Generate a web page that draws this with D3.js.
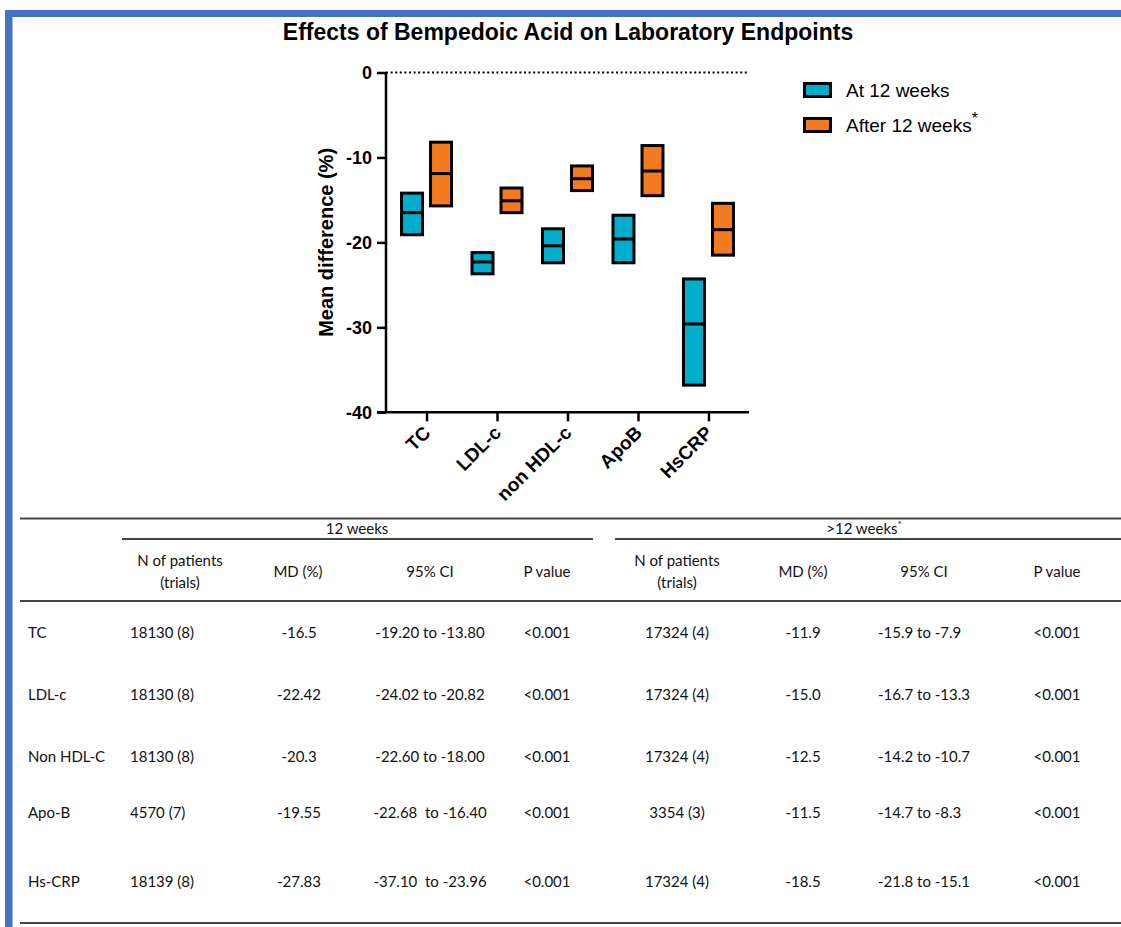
<!DOCTYPE html>
<html>
<head>
<meta charset="utf-8">
<script src="https://cdn.jsdelivr.net/npm/d3@7"></script>
<style>
  html, body { margin: 0; padding: 0; background: #fff; }
  svg { display: block; }
  .tbl text { font-family: Lato, "Open Sans", sans-serif; font-size: 15px; fill: #111; white-space: pre; }
</style>
</head>
<body>
<svg id="chart" width="1121" height="927"></svg>
<script>
// ---------- chart data ----------
const categories = ["TC", "LDL-c", "non HDL-c", "ApoB", "HsCRP"];
const series = ["At 12 weeks", "After 12 weeks"];
const seriesColors = ["#00ADCB", "#F47A1F"];
const at12Low   = [-19.1, -23.7, -22.4, -22.4, -36.8];
const at12High  = [-14.2, -21.2, -18.4, -16.8, -24.3];
const at12Mean  = [-16.5, -22.3, -20.4, -19.6, -29.6];
const after12Low  = [-15.7, -16.5, -13.9, -14.5, -21.5];
const after12High = [-8.2, -13.6, -11.0, -8.6, -15.4];
const after12Mean = [-11.9, -15.1, -12.5, -11.6, -18.5];
const yTicks = [0, -10, -20, -30, -40];

// ---------- table data ----------
const rowLabels = ["TC", "LDL-c", "Non HDL-C", "Apo-B", "Hs-CRP"];
const n12 = ["18130 (8)", "18130 (8)", "18130 (8)", "4570 (7)", "18139 (8)"];
const md12 = ["-16.5", "-22.42", "-20.3", "-19.55", "-27.83"];
const ci12 = ["-19.20 to -13.80", "-24.02 to -20.82", "-22.60 to -18.00", "-22.68  to -16.40", "-37.10  to -23.96"];
const p12 = ["<0.001", "<0.001", "<0.001", "<0.001", "<0.001"];
const nAfter = ["17324 (4)", "17324 (4)", "17324 (4)", "3354 (3)", "17324 (4)"];
const mdAfter = ["-11.9", "-15.0", "-12.5", "-11.5", "-18.5"];
const ciAfter = ["-15.9 to -7.9", "-16.7 to -13.3", "-14.2 to -10.7", "-14.7 to -8.3", "-21.8 to -15.1"];
const pAfter = ["<0.001", "<0.001", "<0.001", "<0.001", "<0.001"];
const colHeaders = ["N of patients|(trials)", "MD (%)", "95% CI", "P value"];

const svg = d3.select("#chart");
const SANS = "'Liberation Sans', Arial, sans-serif";

// frame
svg.append("rect").attr("x", 5).attr("y", 10).attr("width", 1116).attr("height", 7).attr("fill", "#4472C4");
svg.append("rect").attr("x", 5).attr("y", 10).attr("width", 7.5).attr("height", 917).attr("fill", "#4472C4");

// title
svg.append("text").attr("x", 568).attr("y", 40).attr("text-anchor", "middle")
  .style("font-family", SANS).style("font-weight", "bold").style("font-size", "23px")
  .text("Effects of Bempedoic Acid on Laboratory Endpoints");

// scales
const x0 = 386, x1 = 749, yTop = 72.5, yBot = 412.3;
const x = d3.scalePoint().domain(categories).range([x0, x1]).padding(0.575);
const xs = d3.scalePoint().domain(series).range([-14.5, 14.5]);
const y = d3.scaleLinear().domain([-40, 0]).range([yBot, yTop]);
const boxW = 21;

const g = svg.append("g");

// zero dotted line
g.append("line").attr("x1", x0).attr("x2", x1).attr("y1", y(0)).attr("y2", y(0))
  .attr("stroke", "#000").attr("stroke-width", 2).attr("stroke-dasharray", "2,2.6");

// y axis
const yAxis = g.append("g").attr("transform", `translate(${x0},0)`)
  .call(d3.axisLeft(y).tickValues(yTicks).tickSize(9).tickPadding(5).tickFormat(d => String(d)));
yAxis.select(".domain").attr("stroke", "#000").attr("stroke-width", 2.5).attr("d", `M0,${y(0)}V${yBot}`);
yAxis.selectAll(".tick line").attr("stroke", "#000").attr("stroke-width", 2.5);
yAxis.selectAll(".tick text").style("font-family", SANS)
  .style("font-weight", "bold").style("font-size", "18px").attr("fill", "#000");

// x axis
const xAxis = g.append("g").attr("transform", `translate(0,${yBot})`)
  .call(d3.axisBottom(x).tickSize(9).tickSizeOuter(0));
xAxis.select(".domain").attr("stroke", "#000").attr("stroke-width", 2.5).attr("d", `M${x0 - 9},0H${x1}`);
xAxis.selectAll(".tick line").attr("stroke", "#000").attr("stroke-width", 2.5);
xAxis.selectAll(".tick text")
  .style("font-family", SANS).style("font-weight", "bold").style("font-size", "19px")
  .attr("fill", "#000").attr("text-anchor", "end")
  .attr("transform", "translate(0,17) rotate(-45)").attr("x", 0).attr("y", 0).attr("dy", "0.35em");

// y axis title
svg.append("text").attr("transform", `translate(333,${(yTop + yBot) / 2}) rotate(-90)`).attr("text-anchor", "middle")
  .style("font-family", SANS).style("font-weight", "bold").style("font-size", "20px")
  .text("Mean difference (%)");

// boxes
const boxData = [];
categories.forEach((c, i) => {
  boxData.push({ cat: c, s: series[0], lo: at12Low[i], hi: at12High[i], m: at12Mean[i], color: seriesColors[0] });
  boxData.push({ cat: c, s: series[1], lo: after12Low[i], hi: after12High[i], m: after12Mean[i], color: seriesColors[1] });
});
const bx = g.selectAll(".box").data(boxData).enter().append("g").attr("class", "box");
bx.append("rect")
  .attr("x", d => x(d.cat) + xs(d.s) - boxW / 2)
  .attr("y", d => y(d.hi))
  .attr("width", boxW)
  .attr("height", d => y(d.lo) - y(d.hi))
  .attr("fill", d => d.color).attr("stroke", "#000").attr("stroke-width", 3);
bx.append("line")
  .attr("x1", d => x(d.cat) + xs(d.s) - boxW / 2).attr("x2", d => x(d.cat) + xs(d.s) + boxW / 2)
  .attr("y1", d => y(d.m)).attr("y2", d => y(d.m))
  .attr("stroke", "#000").attr("stroke-width", 3);

// legend
const lg = svg.append("g");
series.forEach((s, i) => {
  const ly = 90 + i * 35;
  lg.append("rect").attr("x", 804.5).attr("y", ly - 6.5).attr("width", 26).attr("height", 13)
    .attr("fill", seriesColors[i]).attr("stroke", "#000").attr("stroke-width", 3);
  const t = lg.append("text").attr("x", 846).attr("y", ly + 6.5)
    .style("font-family", SANS).style("font-size", "19px").attr("fill", "#000")
    .text(s);
  if (i === 1) t.append("tspan").attr("dy", -8).style("font-size", "16px").text("*");
});

// ---------- table ----------
const tbl = svg.append("g").attr("class", "tbl");
const lineColor = "#444";
function hline(xa, xb, yy) {
  tbl.append("line").attr("x1", xa).attr("x2", xb).attr("y1", yy).attr("y2", yy)
    .attr("stroke", lineColor).attr("stroke-width", 2);
}
hline(20, 1121, 518.5);
hline(122, 593, 539);
hline(615, 1121, 539);
hline(20, 1121, 601);
hline(20, 1121, 923);

tbl.append("text").attr("x", 357).attr("y", 528).attr("text-anchor", "middle").attr("dominant-baseline", "central").text("12 weeks");
const h2 = tbl.append("text").attr("x", 864).attr("y", 528).attr("text-anchor", "middle").attr("dominant-baseline", "central").text(">12 weeks");
h2.append("tspan").attr("dy", -4).style("font-size", "10px").text("*");

const headerX = [[180, 298, 430, 547], [677, 803, 924, 1057]];
headerX.forEach(xsArr => {
  colHeaders.forEach((h, j) => {
    const parts = h.split("|");
    if (parts.length === 2) {
      tbl.append("text").attr("x", xsArr[j]).attr("y", 560).attr("text-anchor", "middle").attr("dominant-baseline", "central").text(parts[0]);
      tbl.append("text").attr("x", xsArr[j]).attr("y", 582).attr("text-anchor", "middle").attr("dominant-baseline", "central").text(parts[1]);
    } else {
      tbl.append("text").attr("x", xsArr[j]).attr("y", 571).attr("text-anchor", "middle").attr("dominant-baseline", "central").text(h);
    }
  });
});

const rowY = [632, 694, 756, 812, 881];
const cols = [
  { vals: rowLabels, x: 28, anchor: "start" },
  { vals: n12, x: 130, anchor: "start" },
  { vals: md12, x: 299, anchor: "middle" },
  { vals: ci12, x: 430, anchor: "middle" },
  { vals: p12, x: 547, anchor: "middle" },
  { vals: nAfter, x: 677, anchor: "middle" },
  { vals: mdAfter, x: 803, anchor: "middle" },
  { vals: ciAfter, x: 878, anchor: "start" },
  { vals: pAfter, x: 1057, anchor: "middle" }
];
cols.forEach(c => {
  c.vals.forEach((v, i) => {
    tbl.append("text").attr("x", c.x).attr("y", rowY[i]).attr("text-anchor", c.anchor)
      .attr("dominant-baseline", "central").text(v);
  });
});
</script>
</body>
</html>
